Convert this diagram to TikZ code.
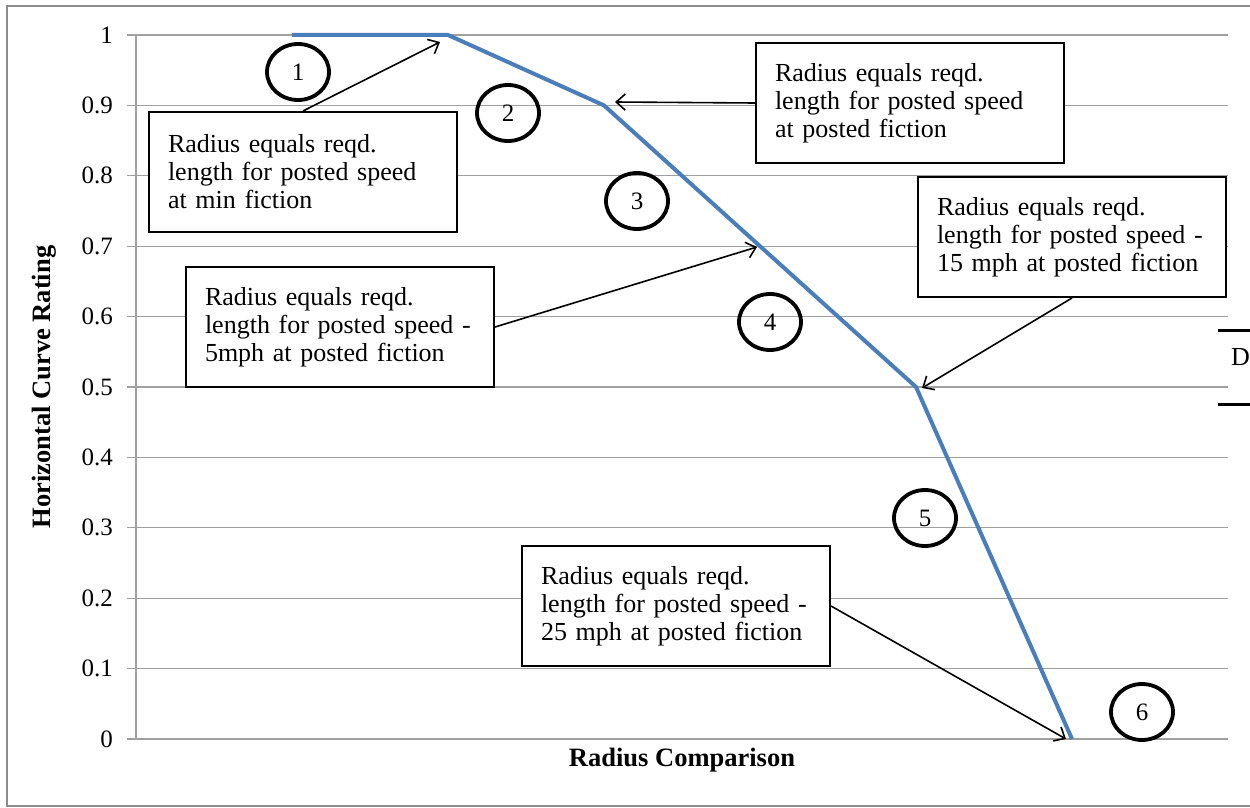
\documentclass[tikz,border=0pt]{standalone}
\usepackage{fontspec}
\setmainfont{Liberation Serif}
\usetikzlibrary{arrows.meta,shapes.geometric}
\definecolor{gridgray}{HTML}{A0A0A0}
\definecolor{framegray}{HTML}{8C8C8C}
\definecolor{serieblue}{HTML}{4A7EBB}
\begin{document}
\begin{tikzpicture}[x=1pt,y=-1pt,
  note/.style={draw=black,line width=2pt,fill=white,text width=270pt,inner xsep=19pt,inner ysep=0pt,minimum height=120pt,align=left,font=\fontsize{26}{28}\selectfont,anchor=north west},
  num/.style={draw=black,line width=3.8pt,ellipse,minimum width=62pt,minimum height=56pt,inner sep=0pt,font=\fontsize{25}{26}\selectfont},
  ptr/.style={draw=black,line width=1.6pt,-{Straight Barb[length=9pt,width=16pt,line width=1.6pt]}},
  gridline/.style={draw=gridgray,line width=1.2pt},
  ticklab/.style={font=\fontsize{25}{26}\selectfont,anchor=east,inner sep=0pt},
  axtitle/.style={font=\bfseries\fontsize{26.5}{28}\selectfont,inner sep=0pt}]
\useasboundingbox (0,0) rectangle (1250,808);
\clip (0,0) rectangle (1250,808);
\fill[white] (0,0) rectangle (1250,808);
% outer frame
\draw[framegray,line width=2.5pt] (7,6) rectangle (1270,806);
% grid and ticks
\foreach \i in {0,...,10}{
  \draw[gridline] (127,739-70.4*\i) -- (1228,739-70.4*\i);
}
\foreach \i in {1,...,9}{
  \node[ticklab] (t\i) at (113,739-70.4*\i) {0.\i};
}
\node[ticklab] (t10) at (113,35) {1};
\node[ticklab] (t0) at (113,739) {0};
\draw[gridline] (136,35) -- (136,739);
% axis titles
\node[axtitle,rotate=90] (ytitle) at (44,387) {Horizontal Curve Rating};
\node[axtitle] (xtitle) at (682,760) {Radius Comparison};
% series
\draw[serieblue,line width=4pt] (292,35) -- (448,35) -- (604,105.4) -- (760,246.2) -- (916,387) -- (1072,739);
% numbered ellipses
\node[num] (c1) at (298,72) {1};
\node[num] (c2) at (508,113) {2};
\node[num] (c3) at (637,201) {3};
\node[num] (c4) at (770,322) {4};
\node[num] (c5) at (925,518) {5};
\node[num] (c6) at (1142,712) {6};
% notes
\node[note] (bA) at (148,111) {Radius equals reqd.\\length for posted speed\\at min fiction};
\node[note] (bB) at (755,42) {Radius equals reqd.\\length for posted speed\\at posted fiction};
\node[note] (bC) at (917,176) {Radius equals reqd.\\length for posted speed -\\15 mph at posted fiction};
\node[note] (bD) at (185,266) {Radius equals reqd.\\length for posted speed -\\5mph at posted fiction};
\node[note] (bE) at (521,545) {Radius equals reqd.\\length for posted speed -\\25 mph at posted fiction};
% arrow tips
\coordinate (pA) at (440,42);
\coordinate (pB) at (615,102);
\coordinate (pC) at (922,388);
\coordinate (pD) at (757,247);
\coordinate (pE) at (1066,739);
\draw[ptr] (bA.north) -- (pA);
\draw[ptr] (bB.west) -- (pB);
\draw[ptr] (bC.south) -- (pC);
\draw[ptr] (bD.east) -- (pD);
\draw[ptr] (bE.east) -- (pE);
% partial table at right edge
\draw[black,line width=3pt] (1218,330) -- (1260,330);
\draw[black,line width=3pt] (1218,404) -- (1260,404);
\node[font=\fontsize{26}{28}\selectfont,anchor=west,inner sep=0pt] (dlab) at (1231,357) {D};
\end{tikzpicture}
\end{document}
